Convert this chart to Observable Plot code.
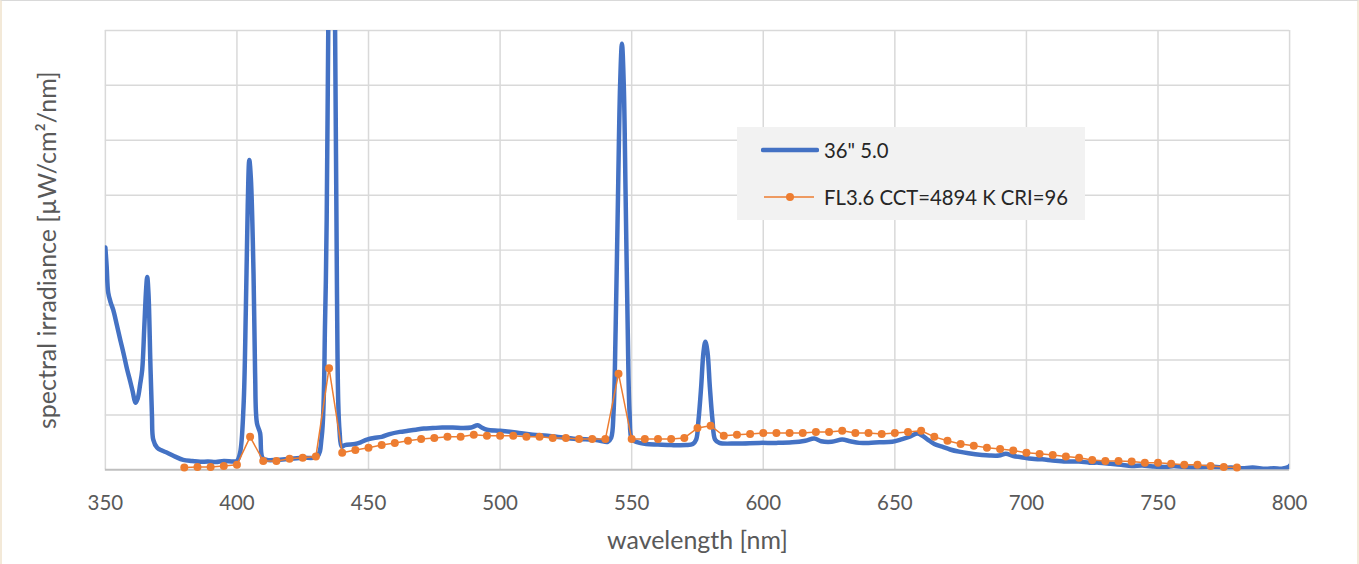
<!DOCTYPE html>
<html>
<head>
<meta charset="utf-8">
<script src="https://cdn.jsdelivr.net/npm/d3@7"></script>
<script src="https://cdn.jsdelivr.net/npm/@observablehq/plot@0.6"></script>
<style>
  html, body { margin: 0; padding: 0; background: #fff; }
  #wrap { position: relative; width: 1359px; height: 564px; box-sizing: border-box;
          border-top: 1px solid #d9d9d9; border-left: 2px solid #f3e9d8; border-right: 2px solid #f3e9d8; overflow: hidden; }
  #chart { position: absolute; left: -2px; top: -1px; }
  #legend { position: absolute; left: 735px; top: 126px; width: 348px; height: 93px; background: #f2f2f2;
            font-family: Lato, "Open Sans", sans-serif; font-size: 20.3px; color: #262626; }
  .row { position: absolute; left: 0; height: 26px; display: flex; align-items: center; }
  .row svg { margin-left: 24px; margin-right: 5px; }
</style>
</head>
<body>
<div id="wrap">
  <div id="chart"></div>
  <div id="legend">
    <div class="row" style="top:10px"><svg width="58" height="10"><line x1="2" y1="5" x2="56" y2="5" stroke="#4472C4" stroke-width="4.5" stroke-linecap="round"/></svg><span>36" 5.0</span></div>
    <div class="row" style="top:57px"><svg width="58" height="10"><line x1="3" y1="5" x2="53" y2="5" stroke="#ED7D31" stroke-width="1.5"/><circle cx="29" cy="5" r="4" fill="#ED7D31"/></svg><span>FL3.6 CCT=4894 K CRI=96</span></div>
  </div>
</div>
<script>
// Series 1: 36" 5.0 (measured spectrum), wavelength [nm] and relative value (grid units)
const blueWavelength = [
  350, 350.5, 351.1, 352, 353, 354.3, 355.7, 357, 358.3, 359.5, 360.5, 361.4, 362.3, 363.2, 364, 364.8, 365.5, 365.9, 366.4, 367.1, 367.7, 368.2, 369.7, 371.5, 373.5, 376.5, 379.6, 383, 386, 389, 392, 395, 398.6, 400,
  401.2, 402.5, 403.4, 404.1, 404.7, 405.3, 406.3, 406.9, 407.6, 408.8, 409.7, 411.4, 415, 420, 425, 430.5,
  432.2, 433.5, 434.1, 434.7, 435.3, 436.0, 436.7, 437.3, 438.0, 438.5, 439.0, 439.8, 441, 444.9, 447, 449.4, 452, 455, 458, 461.9, 465, 468, 471, 474.4, 478, 482, 486, 489, 491.5, 493, 495, 500, 506, 512.4, 518, 525.3, 530, 535, 538, 540.9,
  542.2, 543.1, 543.9, 544.8, 545.6, 546.3, 547.0, 547.7, 548.5, 549.2, 550.1, 551.7, 555.5, 560, 565, 570.7, 573.2, 574.5, 575.4, 576.4, 577.3, 578.0, 578.8, 579.7, 580.7, 581.7, 583.3,
  590, 598.5, 605, 611, 616, 619.4, 622, 626, 630, 633, 636.5, 640, 644.1, 649, 652.8, 655.4, 658.5, 660.5, 662.5, 665, 668, 671, 674.4, 678, 683.1, 686, 689.6, 692.2, 695, 698, 702.1, 706, 710, 715, 720, 724, 727.5, 732, 736, 740, 744, 748, 752.9, 756, 760, 765.5, 770, 774, 778, 782, 786, 790.9, 794, 797, 799.6, 800
];
const blueValue = [
  4.05, 3.70, 3.22, 3.05, 2.91, 2.65, 2.36, 2.10, 1.82, 1.60, 1.40, 1.22, 1.30, 1.55, 1.82, 2.60, 3.30, 3.51, 3.20, 1.95, 1.00, 0.55, 0.40, 0.35, 0.31, 0.24, 0.18, 0.16, 0.145, 0.15, 0.14, 0.16, 0.15, 0.16,
  0.31, 1.15, 2.96, 4.80, 5.64, 5.30, 3.58, 1.76, 0.85, 0.67, 0.22, 0.18, 0.18, 0.20, 0.22, 0.24,
  0.60, 2.73, 4.55, 8.00, 10.5, 11.5, 10.5, 8.00, 3.33, 1.22, 0.70, 0.42, 0.45, 0.47, 0.50, 0.55, 0.58, 0.60, 0.65, 0.69, 0.71, 0.73, 0.75, 0.76, 0.77, 0.77, 0.76, 0.77, 0.81, 0.77, 0.73, 0.71, 0.68, 0.64, 0.62, 0.58, 0.56, 0.55, 0.53, 0.51,
  0.58, 1.04, 2.55, 4.98, 7.00, 7.76, 7.00, 4.98, 2.55, 1.04, 0.55, 0.51, 0.47, 0.46, 0.45, 0.45, 0.47, 0.55, 0.91, 1.51, 2.15, 2.33, 2.15, 1.51, 0.91, 0.55, 0.49,
  0.48, 0.49, 0.49, 0.50, 0.53, 0.57, 0.52, 0.51, 0.55, 0.52, 0.49, 0.49, 0.50, 0.51, 0.56, 0.60, 0.66, 0.62, 0.55, 0.47, 0.42, 0.37, 0.33, 0.30, 0.27, 0.26, 0.26, 0.29, 0.25, 0.23, 0.20, 0.19, 0.17, 0.15, 0.15, 0.13, 0.13, 0.11, 0.09, 0.07, 0.08, 0.06, 0.05, 0.07, 0.05, 0.04, 0.06, 0.04, 0.04, 0.03, 0.04, 0.02, 0.03, 0.02, 0.05, 0.07
];

// Series 2: FL3.6 reference illuminant, every 5 nm from 380 to 780
const orangeWavelength = d3.range(380, 781, 5);
const orangeValue = [
  0.04, 0.05, 0.05, 0.07, 0.09, 0.60, 0.16, 0.16, 0.20, 0.22, 0.24, 1.85, 0.31, 0.36, 0.40, 0.45, 0.49, 0.53, 0.56, 0.58,
  0.60, 0.60, 0.64, 0.62, 0.62, 0.62, 0.60, 0.60, 0.58, 0.58, 0.56, 0.56, 0.56, 1.75, 0.56, 0.56, 0.56, 0.56, 0.58, 0.76,
  0.80, 0.62, 0.64, 0.65, 0.67, 0.67, 0.67, 0.67, 0.69, 0.69, 0.71, 0.67, 0.67, 0.65, 0.67, 0.69, 0.71, 0.60, 0.53, 0.47,
  0.44, 0.40, 0.38, 0.35, 0.31, 0.29, 0.27, 0.24, 0.22, 0.18, 0.16, 0.16, 0.15, 0.13, 0.13, 0.11, 0.09, 0.09, 0.07, 0.05, 0.04
];

const xTicks = [350, 400, 450, 500, 550, 600, 650, 700, 750, 800];
const yGrid = [0, 1, 2, 3, 4, 5, 6, 7, 8];
const xLabel = "wavelength [nm]";
const yLabel = "spectral irradiance [µW/cm²/nm]";

const blue = blueWavelength.map((w, i) => ({w, v: blueValue[i]}));
const orange = orangeWavelength.map((w, i) => ({w, v: orangeValue[i]}));

const chart = Plot.plot({
  width: 1359,
  height: 564,
  marginLeft: 105,
  marginRight: 68,
  marginTop: 30,
  marginBottom: 94,
  style: {fontFamily: "Lato, 'Open Sans', sans-serif", fontSize: "20px", color: "#595959", background: "transparent"},
  x: {domain: [350, 800]},
  y: {domain: [0, 8]},
  marks: [
    Plot.gridX(xTicks, {stroke: "#d9d9d9", strokeOpacity: 1, strokeWidth: 1.5}),
    Plot.gridY(yGrid.slice(1), {stroke: "#d9d9d9", strokeOpacity: 1, strokeWidth: 1.5}),
    Plot.ruleY([0], {stroke: "#bfbfbf", strokeWidth: 2}),
    Plot.axisX(xTicks, {tickSize: 0, tickPadding: 26, label: null, fontSize: 20.5, fill: "#595959"}),
    Plot.axisY([], {label: null, tickSize: 0}),
    Plot.text([xLabel], {frameAnchor: "bottom", dy: 79, fontSize: 25, fill: "#595959"}),
    Plot.text([yLabel], {frameAnchor: "left", dx: -57, rotate: -90, textAnchor: "middle", fontSize: 25, fill: "#595959"}),
    Plot.line(blue, {x: "w", y: "v", stroke: "#4472C4", strokeWidth: 4.5, curve: "catmull-rom", clip: true, strokeLinejoin: "round"}),
    Plot.line(orange, {x: "w", y: "v", stroke: "#ED7D31", strokeWidth: 1.5, clip: true}),
    Plot.dot(orange, {x: "w", y: "v", r: 4, fill: "#ED7D31", stroke: "none"})
  ]
});
document.getElementById("chart").appendChild(chart);
</script>
</body>
</html>
